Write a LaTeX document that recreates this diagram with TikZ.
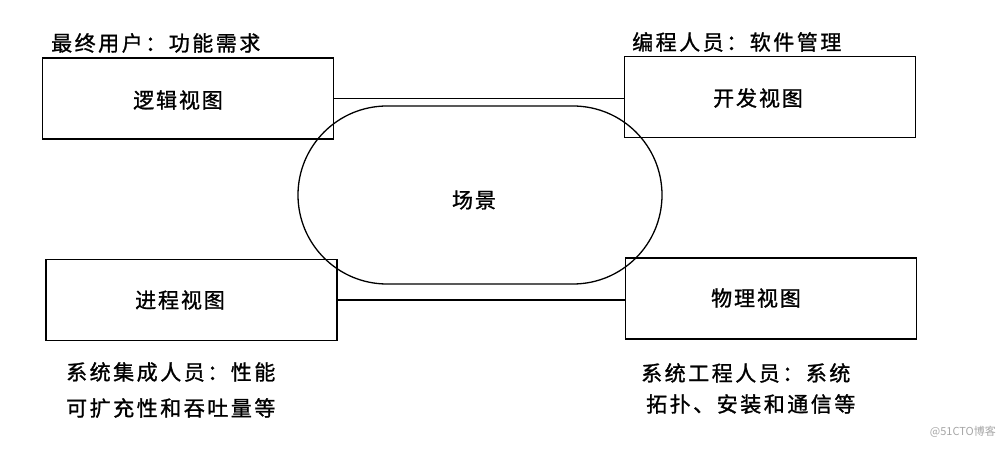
\documentclass[tikz,border=0pt]{standalone}
\usepackage{fontspec}
\newfontfamily\cjk[LetterSpace=9,FakeBold=1.2]{Noto Sans CJK SC}
\newfontfamily\cjkcap[LetterSpace=12,FakeBold=1.2]{Noto Sans CJK SC}
\newfontfamily\cjkplain{Noto Sans CJK SC}
\begin{document}
\begin{tikzpicture}[x=1pt,y=-1pt,
  viewbox/.style={draw,line width=1.4pt,minimum width=291pt,minimum height=81pt,inner sep=0pt},
  boxtext/.style={font=\cjk\fontsize{21}{24}\selectfont,inner sep=0pt},
  caption/.style={font=\cjkcap\fontsize{21}{24}\selectfont,anchor=west,inner sep=0pt},
  link/.style={line width=1.2pt}]
\useasboundingbox (0,0) rectangle (1004,449);
\node[draw,line width=1.3pt,rounded corners=89pt,minimum width=364pt,minimum height=178pt,inner sep=0pt]
  (scene) at (480,195) {};
\node[boxtext] (scenet) at (474,200) {场景};
\node[viewbox] (logic) at (188,98.5) {};
\node[viewbox] (dev) at (770,97) {};
\node[viewbox] (proc) at (191.5,300) {};
\node[viewbox] (phys) at (771,298.5) {};
\node[boxtext] (logict) at (178,100) {逻辑视图};
\node[boxtext] (devt) at (758,98) {开发视图};
\node[boxtext] (proct) at (180,300) {进程视图};
\node[boxtext] (physt) at (756,298) {物理视图};
\draw[link] (logic.east) -- (logic.east -| dev.west);
\draw[link] (proc.east) -- (proc.east -| phys.west);
\node[caption] (lc) at (51,43) {最终用户：功能需求};
\node[caption] (dc) at (632,42) {编程人员：软件管理};
\node[caption] (pc1) at (66,372) {系统集成人员：性能};
\node[caption] (pc2) at (66,408) {可扩充性和吞吐量等};
\node[caption] (yc1) at (641,373) {系统工程人员：系统};
\node[caption] (yc2) at (646,404) {拓扑、安装和通信等};
\node[font=\cjkplain\fontsize{11}{13}\selectfont,text=black!35,anchor=east,inner sep=0pt] (wm) at (996,432) {@51CTO博客};
\end{tikzpicture}
\end{document}
